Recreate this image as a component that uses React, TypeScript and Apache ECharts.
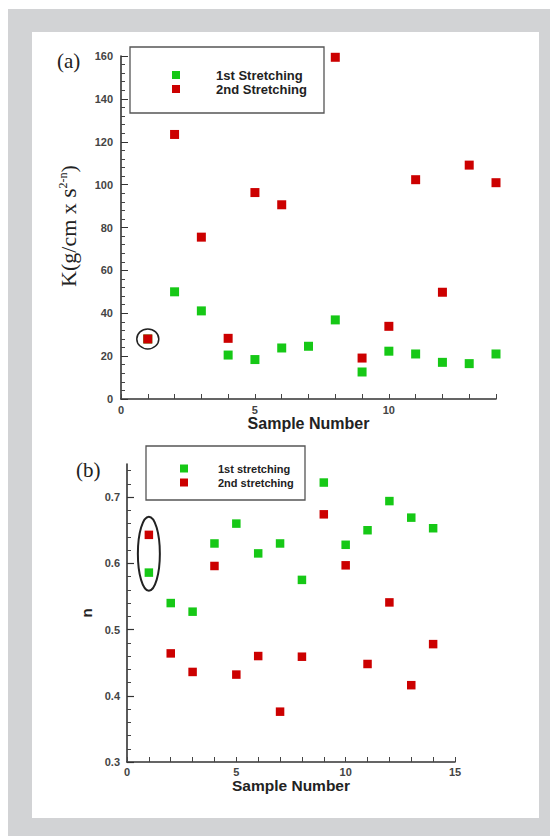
import React, { useEffect, useRef } from 'react';
import * as echarts from 'echarts';

// ---- data ----
const sampleNumbers = [1, 2, 3, 4, 5, 6, 7, 8, 9, 10, 11, 12, 13, 14];
const kFirst = [28, 50, 41.1, 20.5, 18.4, 23.8, 24.6, 36.9, 12.6, 22.3, 21.0, 17.1, 16.5, 21.0];
const kSecond = [28, 123.4, 75.5, 28.3, 96.3, 90.6, null, 159.4, 19.1, 33.9, 102.3, 49.8, 109.1, 100.9];
const nFirst = [0.586, 0.540, 0.527, 0.630, 0.660, 0.615, 0.630, 0.575, 0.722, 0.628, 0.650, 0.694, 0.669, 0.653];
const nSecond = [0.643, 0.464, 0.436, 0.596, 0.432, 0.460, 0.376, 0.459, 0.674, 0.597, 0.448, 0.541, 0.416, 0.478];

const kXLabels = [0, 5, 10];
const nXLabels = [0, 5, 10, 15];
const nYLabels = [0.3, 0.4, 0.5, 0.6, 0.7];
const nYMinor = [0.32, 0.34, 0.36, 0.38, 0.42, 0.44, 0.46, 0.48, 0.52, 0.54, 0.56, 0.58, 0.62, 0.64, 0.66, 0.68, 0.72, 0.74];

const legendA = ['1st Stretching', '2nd Stretching'];
const legendB = ['1st stretching', '2nd stretching'];

const GREEN = '#16c816';
const RED = '#cc0000';
const SANS = 'Liberation Sans, Arial, sans-serif';
const SERIF = 'Liberation Serif, Times New Roman, serif';

const pair = (vals: (number | null)[]) => sampleNumbers.map((s, i) => [s, vals[i]]).filter((d) => d[1] != null);

export default function App() {
  const ref = useRef<HTMLDivElement>(null);
  useEffect(() => {
    if (!ref.current) return;
    const chart = echarts.init(ref.current, null, { renderer: 'svg' });
    const tickLabel = { fontFamily: SANS, fontSize: 11, fontWeight: 'bold' as const, color: '#444' };
    const axisLine = { lineStyle: { color: '#333', width: 1.6 } };
    const legendCommon = (size: number, pad: number) => ({
      orient: 'vertical' as const,
      itemWidth: 8,
      itemHeight: 8,
      icon: 'rect',
      padding: 0,
      selectedMode: false,
      formatter: (n: string) => `{s|}{n|${n}}`,
      textStyle: {
        rich: {
          s: { width: pad },
          n: { fontFamily: SANS, fontSize: size, fontWeight: 'bold', color: '#222' },
        },
      },
    });
    chart.setOption({
      animation: false,
      grid: [
        { left: 121, top: 56, width: 375, height: 343 },
        { left: 127, top: 464, width: 328, height: 298 },
      ],
      legend: [
        { ...legendCommon(13, 31), data: legendA, left: 172, top: 68.5, itemGap: 1 },
        { ...legendCommon(11, 25), data: legendB, left: 180, top: 462.5, itemGap: 2 },
      ],
      xAxis: [
        {
          type: 'value', gridIndex: 0, min: 0, max: 14, interval: 1,
          name: 'Sample Number', nameLocation: 'middle', nameGap: 15,
          nameTextStyle: { fontFamily: SANS, fontSize: 16, fontWeight: 'bold', color: '#222' },
          axisLine, splitLine: { show: false },
          axisTick: { inside: true, length: 5, lineStyle: { color: '#444' } },
          axisLabel: { ...tickLabel, margin: 5, formatter: (v: number) => (kXLabels.includes(v) ? String(v) : '') },
        },
        {
          type: 'value', gridIndex: 1, min: 0, max: 15, interval: 1,
          name: 'Sample Number', nameLocation: 'middle', nameGap: 12,
          nameTextStyle: { fontFamily: SANS, fontSize: 15.5, fontWeight: 'bold', color: '#222' },
          axisLine, splitLine: { show: false },
          axisTick: { inside: true, length: 5, lineStyle: { color: '#444' } },
          axisLabel: { ...tickLabel, margin: 4, formatter: (v: number) => (nXLabels.includes(v) ? String(v) : '') },
        },
      ],
      yAxis: [
        {
          type: 'value', gridIndex: 0, min: 0, max: 160, interval: 20,
          axisLine, splitLine: { show: false },
          axisTick: { inside: true, length: 7, lineStyle: { color: '#333' } },
          minorTick: { show: true, splitNumber: 5, length: 4, lineStyle: { color: '#444' } },
          axisLabel: { ...tickLabel, margin: 8 },
        },
        {
          type: 'value', gridIndex: 1, min: 0.3, max: 0.75, interval: 0.1,
          name: 'n', nameLocation: 'middle', nameRotate: 90, nameGap: 30,
          nameTextStyle: { fontFamily: SANS, fontSize: 15, fontWeight: 'bold', color: '#222' },
          axisLine, splitLine: { show: false },
          axisTick: { inside: true, length: 7, customValues: nYLabels, lineStyle: { color: '#333', width: 1.2 } },
          axisLabel: { ...tickLabel, margin: 7, customValues: nYLabels, formatter: (v: number) => v.toFixed(1) },
        },
        {
          type: 'value', gridIndex: 1, min: 0.3, max: 0.75, interval: 0.02, position: 'left', offset: 0,
          axisLine: { show: false }, splitLine: { show: false }, axisLabel: { show: false },
          axisTick: { inside: true, length: 4, customValues: nYMinor, lineStyle: { color: '#444' } },
        },
      ],
      series: [
        { name: legendA[0], type: 'scatter', xAxisIndex: 0, yAxisIndex: 0, symbol: 'rect', symbolSize: 9, itemStyle: { color: GREEN, opacity: 1 }, data: pair(kFirst) },
        { name: legendA[1], type: 'scatter', xAxisIndex: 0, yAxisIndex: 0, symbol: 'rect', symbolSize: 9, itemStyle: { color: RED, opacity: 1 }, data: pair(kSecond) },
        { name: legendB[0], type: 'scatter', xAxisIndex: 1, yAxisIndex: 1, symbol: 'rect', symbolSize: 8.5, itemStyle: { color: GREEN, opacity: 1 }, data: pair(nFirst) },
        { name: legendB[1], type: 'scatter', xAxisIndex: 1, yAxisIndex: 1, symbol: 'rect', symbolSize: 8.5, itemStyle: { color: RED, opacity: 1 }, data: pair(nSecond) },
      ],
    });

    const pA = chart.convertToPixel({ gridIndex: 0 }, [sampleNumbers[0], kSecond[0] as number]) as number[];
    const pB = chart.convertToPixel({ gridIndex: 1 }, [sampleNumbers[0], (nFirst[0] + nSecond[0]) / 2]) as number[];

    chart.setOption({
      graphic: [
        { id: 'ta', type: 'text', x: 57, y: 61, style: { text: '(a)', fontFamily: SERIF, fontSize: 21, fill: '#222', verticalAlign: 'middle' } },
        { id: 'tb', type: 'text', x: 76, y: 470, style: { text: '(b)', fontFamily: SERIF, fontSize: 21, fill: '#222', verticalAlign: 'middle' } },
        {
          id: 'ky', type: 'text', x: 68, y: 226, rotation: Math.PI / 2,
          style: {
            text: '{a|K(g/cm x }{s|s}{p|2-n}{a|)}',
            align: 'center', verticalAlign: 'middle',
            rich: {
              a: { fontFamily: SERIF, fontSize: 22, fill: '#222' },
              s: { fontFamily: SERIF, fontSize: 24, fill: '#222' },
              p: { fontFamily: SERIF, fontSize: 12, fill: '#222', verticalAlign: 'top', padding: [1, 0, 0, 0] },
            },
          },
        },
        { id: 'boxA', type: 'rect', shape: { x: 130, y: 47, width: 194, height: 66 }, style: { fill: 'none', stroke: '#555', lineWidth: 1.3 } },
        { id: 'boxB', type: 'rect', shape: { x: 146, y: 446, width: 159, height: 54 }, style: { fill: 'none', stroke: '#555', lineWidth: 1.3 } },
        { id: 'ellA', type: 'ellipse', shape: { cx: pA[0], cy: pA[1], rx: 11, ry: 10 }, style: { fill: 'none', stroke: '#222', lineWidth: 1.5 }, z: 10 },
        { id: 'ellB', type: 'ellipse', shape: { cx: pB[0], cy: pB[1], rx: 11, ry: 37 }, style: { fill: 'none', stroke: '#222', lineWidth: 2 }, z: 10 },
      ],
    });
    return () => chart.dispose();
  }, []);

  return (
    <div style={{ position: 'absolute', left: 0, top: 0, width: 550, height: 836, background: '#ffffff', overflow: 'hidden' }}>
      <div style={{ position: 'absolute', left: 8, top: 9, width: 542, height: 827, background: '#d2d3d5' }} />
      <div style={{ position: 'absolute', left: 32, top: 32, width: 507, height: 786, background: '#ffffff' }} />
      <div ref={ref} style={{ position: 'absolute', left: 0, top: 0, width: 550, height: 836 }} />
    </div>
  );
}
